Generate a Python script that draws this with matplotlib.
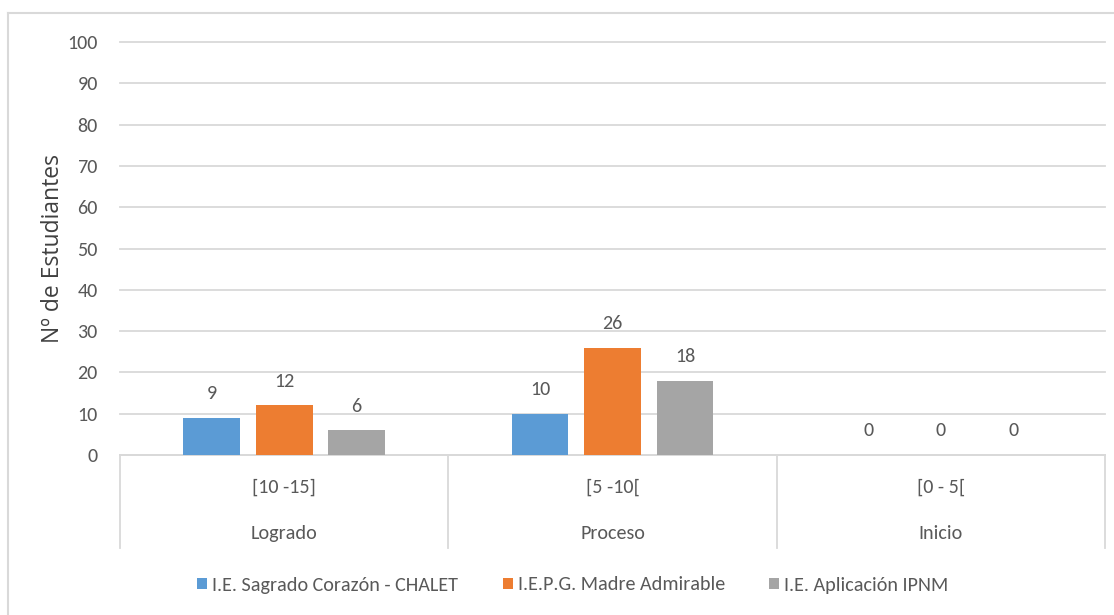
import matplotlib
matplotlib.use('Agg')
import matplotlib.pyplot as plt
from matplotlib.patches import Patch
from matplotlib.lines import Line2D
import numpy as np

# Data
levels = ['Logrado', 'Proceso', 'Inicio']
ranges = ['[10 -15]', '[5 -10[', '[0 - 5[']
schools = ['I.E. Sagrado Corazón - CHALET', 'I.E.P.G. Madre Admirable', 'I.E. Aplicación IPNM']
sagrado = [9, 10, 0]
madre = [12, 26, 0]
ipnm = [6, 18, 0]
colors = ['#5B9BD5', '#ED7D31', '#A5A5A5']

plt.rcParams['font.family'] = ['Carlito', 'Roboto Condensed', 'DejaVu Sans']
txt = '#595959'
fs = 14.5

fig = plt.figure(figsize=(11.14, 6.15), dpi=100)
ax = fig.add_axes([120 / 1114, 1 - 455 / 615, 985 / 1114, 413 / 615])

x = np.arange(len(levels))
width = 0.173
offset = 0.221
for i, (vals, c) in enumerate(zip([sagrado, madre, ipnm], colors)):
    pos = x + (i - 1) * offset
    bars = ax.bar(pos, vals, width=width, color=c, zorder=3)
    for b, v in zip(bars, vals):
        ax.text(b.get_x() + b.get_width() / 2, v + 3.8, str(v), ha='center', va='bottom',
                fontsize=fs, color=txt)

ax.set_xlim(-0.5, 2.5)
ax.set_ylim(0, 100)
ax.set_yticks(range(0, 101, 10))
ax.tick_params(axis='y', length=0, labelsize=fs, labelcolor=txt, pad=16)
ax.yaxis.grid(True, color='#D9D9D9', linewidth=1.3, zorder=0)
for gl in ax.get_ygridlines():
    gl.set_clip_on(False)
ax.set_axisbelow(True)
for s in ['top', 'right', 'left']:
    ax.spines[s].set_visible(False)
ax.spines['bottom'].set_color('#D9D9D9')
ax.spines['bottom'].set_linewidth(1.3)

# two-level category axis
ax.set_xticks(x)
ax.set_xticklabels(ranges, fontsize=fs, color=txt)
ax.tick_params(axis='x', length=0, pad=17)
trans = ax.get_xaxis_transform()
for i, lv in enumerate(levels):
    ax.text(i, -0.19, lv, transform=trans, ha='center', va='center', fontsize=fs, color=txt)
for b in np.arange(-0.5, 2.6, 1.0):
    ax.add_line(Line2D([b, b], [0, -0.225], transform=trans, color='#D9D9D9',
                       linewidth=1.3, clip_on=False))

ax.set_ylabel('Nº de Estudiantes', fontsize=16.5, color='#404040', family=['Open Sans', 'DejaVu Sans'])
ax.yaxis.set_label_coords(-0.056, 0.5)

handles = [Patch(facecolor=c, edgecolor='none') for c in colors]
fig.legend(handles, schools, loc='center', bbox_to_anchor=(573 / 1114, 1 - 585 / 615), ncol=3,
           frameon=False, fontsize=fs, labelcolor=txt, handlelength=0.5, handleheight=0.5,
           handletextpad=0.25, columnspacing=2.2)

# chart area border (top and left visible)
fig.add_artist(Line2D([8 / 1114, 1.0], [1 - 13 / 615] * 2, transform=fig.transFigure,
                      color='#D9D9D9', linewidth=1.5))
fig.add_artist(Line2D([8 / 1114] * 2, [0, 1 - 13 / 615], transform=fig.transFigure,
                      color='#D9D9D9', linewidth=1.5))

fig.savefig('out.png', dpi=100, facecolor='white')
